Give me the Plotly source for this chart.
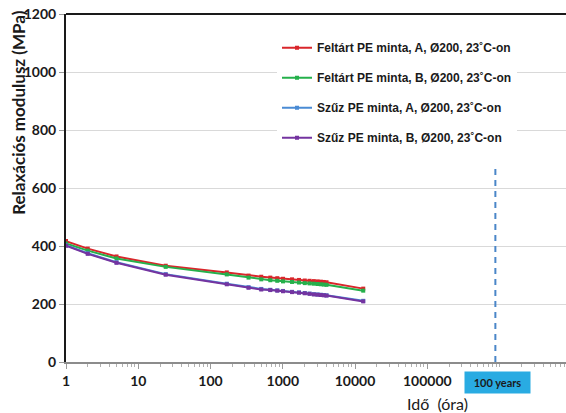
import plotly.graph_objects as go

# time (hours)
time_h = [1, 2, 5, 24, 168, 336, 504, 672, 840, 1008, 1344, 1680, 2016, 2352,
          2688, 3024, 3360, 3696, 4032, 13000]

feltart_a = [417, 391, 364, 332, 309, 298, 294, 291, 289, 287, 285, 283, 281, 280,
             279, 278, 277, 276, 275, 253]
feltart_b = [409, 384, 357, 328, 302, 291, 285, 282, 280, 278, 276, 274, 272, 271,
             270, 269, 268, 267, 266, 246]
szuz_a = [403, 375, 344, 303, 270, 258, 252, 249, 247, 245, 242, 240, 238, 236,
          234, 233, 232, 231, 230, 211]
szuz_b = [401, 373, 342, 301, 268, 256, 250, 248, 246, 244, 241, 239, 237, 235,
          233, 232, 231, 230, 229, 209]

series_names = [
    "Feltárt PE minta, A, Ø200, 23˚C-on",
    "Feltárt PE minta, B, Ø200, 23˚C-on",
    "Szűz PE minta, A, Ø200, 23˚C-on",
    "Szűz PE minta, B, Ø200, 23˚C-on",
]
series_values = [feltart_a, feltart_b, szuz_a, szuz_b]
series_colors = ["#d9262b", "#25b04b", "#4a8bd4", "#7434a0"]

hundred_years_h = [876000, 876000]
hundred_years_y = [0, 670]

x_tickvals = [1, 10, 100, 1000, 10000, 100000]
x_ticktext = ["1", "10", "100", "1000", "10000", "100000"]
y_tickvals = [0, 200, 400, 600, 800, 1000, 1200]

fig = go.Figure()
for i, (name, vals, col) in enumerate(zip(series_names, series_values, series_colors)):
    fig.add_trace(go.Scatter(
        x=time_h, y=vals, name=name, mode="lines+markers",
        line=dict(color=col, width=2),
        marker=dict(symbol="square", size=4, color=col),
        legendgroup=f"g{i}",
    ))

fig.add_trace(go.Scatter(
    x=hundred_years_h, y=hundred_years_y, mode="lines", showlegend=False,
    line=dict(color="#4a86c8", width=2, dash="6px,5px"), hoverinfo="skip",
))

fig.update_layout(
    width=566, height=413,
    margin=dict(l=66, r=0, t=14, b=51),
    paper_bgcolor="white", plot_bgcolor="white",
    showlegend=True,
    legend=dict(
        x=0.422, y=0.945, xanchor="left", yanchor="top",
        bgcolor="white", borderwidth=0,
        font=dict(family="Liberation Sans", size=12, color="#1a1a1a", weight="bold"),
        traceorder="grouped", tracegroupgap=11,
    ),
    xaxis=dict(
        type="log", range=[0, 6.92],
        tickmode="array", tickvals=x_tickvals, ticktext=x_ticktext,
        ticks="outside", ticklen=5, tickcolor="#9a9a9a", tickwidth=1,
        minor=dict(ticks="outside", ticklen=3, tickcolor="#b0b0b0", dtick="D1", showgrid=False),
        showline=True, linecolor="#8c8c8c", linewidth=2,
        showgrid=False, zeroline=False,
        tickfont=dict(family="Lato", size=14, color="#1a1a1a", weight="bold"),
    ),
    yaxis=dict(
        range=[0, 1200], tickmode="array", tickvals=y_tickvals,
        ticks="outside", ticklen=5, tickcolor="#9a9a9a",
        showline=True, linecolor="#1a1a1a", linewidth=2,
        showgrid=True, gridcolor="#d9d9d9", gridwidth=1, zeroline=False,
        tickfont=dict(family="Lato", size=14, color="#1a1a1a", weight="bold"),
    ),
    shapes=[dict(type="line", xref="paper", yref="paper", x0=0, x1=1, y0=1, y1=1,
                 line=dict(color="#1a1a1a", width=2))],
    annotations=[
        dict(text="Relaxációs modulusz (MPa)", xref="paper", yref="paper",
             x=-0.094, y=0.716, xanchor="center", yanchor="middle",
             textangle=-90, showarrow=False,
             font=dict(family="Lato", size=17, color="#1a1a1a", weight="bold")),
        dict(text="Idő  (óra)", xref="paper", yref="paper",
             x=0.742, y=-0.118, xanchor="center", yanchor="middle", showarrow=False,
             font=dict(family="Lato", size=16, color="#1a1a1a")),
        dict(text="100 years", xref="paper", yref="paper",
             x=0.863, y=-0.059, xanchor="center", yanchor="middle",
             showarrow=False, bgcolor="#29abe2",
             width=62, height=18, borderpad=1.5,
             font=dict(family="Lato", size=11, color="#1a1a1a", weight="bold")),
    ],
)

fig.write_html("out.html")
